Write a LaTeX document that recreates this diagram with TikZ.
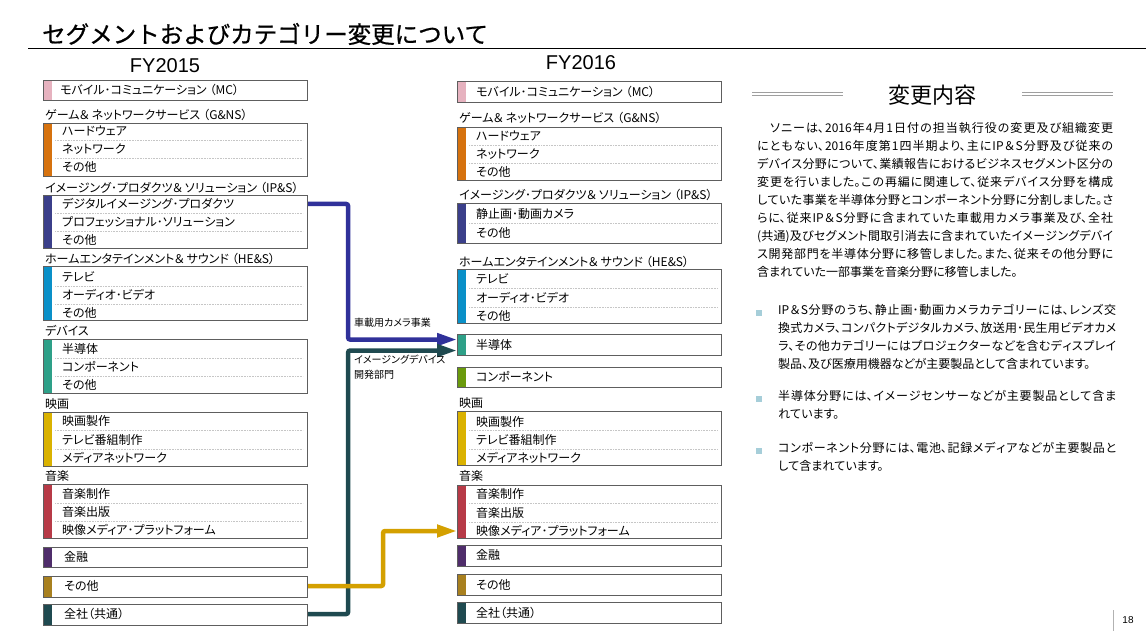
\documentclass[tikz,border=0pt]{standalone}
\usepackage{fontspec}
\setmainfont{Noto Sans CJK JP}
\newfontfamily\jp[RawFeature={+palt}]{Noto Sans CJK JP}
\newfontfamily\jpw{Noto Sans CJK JP}
\newfontfamily\jpt[FakeBold=0.8]{Noto Sans CJK JP}
\newfontfamily\arial{Liberation Sans}
\usetikzlibrary{arrows.meta}
\XeTeXlinebreaklocale "ja"
\XeTeXlinebreakskip=0pt plus 2pt
\definecolor{cMC}{HTML}{E6B2BF}
\definecolor{cGN}{HTML}{D6720E}
\definecolor{cIP}{HTML}{3B3F8A}
\definecolor{cHE}{HTML}{0A90C8}
\definecolor{cDV}{HTML}{2EA088}
\definecolor{cFM}{HTML}{DAB200}
\definecolor{cMU}{HTML}{B73A47}
\definecolor{cFI}{HTML}{4F2D6B}
\definecolor{cOT}{HTML}{A8801F}
\definecolor{cCO}{HTML}{1F4A50}
\definecolor{cCP}{HTML}{6A9A0C}
\definecolor{aBL}{HTML}{30319A}
\definecolor{aTE}{HTML}{1F4A50}
\definecolor{aGO}{HTML}{D4A000}
\definecolor{boxgray}{HTML}{5E5E5E}
\definecolor{cBul}{HTML}{A6CED9}
\newcommand\amp{＆\hspace{2.5pt}}
\newcommand\lp{\hspace{3pt}（}
\begin{document}
\begin{tikzpicture}[x=1pt,y=-1pt,
  seg/.style={draw=boxgray, line width=1.1pt, fill=white, anchor=north west, inner sep=0pt,
     minimum width=264pt,
     path picture={\fill[#1] (path picture bounding box.north west) rectangle ([xshift=8pt]path picture bounding box.south west);}},
  row/.style={anchor=west, inner sep=0pt, font=\jp\fontsize{12}{14}\selectfont},
  lab/.style={anchor=west, inner sep=0pt, font=\jp\fontsize{12}{14}\selectfont},
  sep/.style={densely dotted, draw=gray!45, line width=0.6pt},
  flow/.style={line width=4.5pt, rounded corners=2pt, -{Triangle[length=20pt,width=12pt]}},
  small/.style={anchor=west, inner sep=0pt, font=\jp\fontsize{10}{15}\selectfont, align=left},
  para/.style={anchor=north west, inner sep=0pt, align=justify, font=\jp\fontsize{12}{18}\selectfont},
  bul/.style={fill=cBul, inner sep=0pt, minimum size=6pt},
  thin/.style={draw=gray!75, line width=0.7pt}
]
\useasboundingbox (0,0) rectangle (1146,639);
\fill[white] (0,0) rectangle (1146,639);

% title
\node[anchor=west, inner sep=0pt, font=\jpt\fontsize{23.5}{26}\selectfont] (title) at (42,34) {セグメントおよびカテゴリー変更について};
\draw[line width=0.8pt] (28,48) -- (1146,48);

\node[font=\arial\fontsize{20}{22}\selectfont, inner sep=0pt] (fy15) at (165,66) {FY2015};
\node[font=\arial\fontsize{20}{22}\selectfont, inner sep=0pt] (fy16) at (581,63) {FY2016};

% ---------------- left column
\node[seg=cMC, minimum height=20pt] (lMC) at (43,80) {};
\node[row] (lMCt) at (60,90) {モバイル･コミュニケーション\lp MC）};

\node[lab] (lGNl) at (45,115) {ゲーム\amp ネットワークサービス\lp G\&NS）};
\node[seg=cGN, minimum height=53pt] (lGN) at (43,123) {};
\draw[sep] (55,140) -- (303,140); \draw[sep] (55,158) -- (303,158);
\node[row] (lGN1) at (62,131) {ハードウェア};
\node[row] (lGN2) at (62,149) {ネットワーク};
\node[row] (lGN3) at (62,167) {その他};

\node[lab] (lIPl) at (45,188) {イメージング･プロダクツ\amp ソリューション\lp IP\&S）};
\node[seg=cIP, minimum height=53pt] (lIP) at (43,195) {};
\draw[sep] (55,213) -- (303,213); \draw[sep] (55,231) -- (303,231);
\node[row] (lIP1) at (62,204) {デジタルイメージング･プロダクツ};
\node[row] (lIP2) at (62,222) {プロフェッショナル･ソリューション};
\node[row] (lIP3) at (62,240) {その他};

\node[lab] (lHEl) at (45,259) {ホームエンタテインメント\amp サウンド\lp HE\&S）};
\node[seg=cHE, minimum height=54pt] (lHE) at (43,266) {};
\draw[sep] (55,286) -- (303,286); \draw[sep] (55,304) -- (303,304);
\node[row] (lHE1) at (62,277) {テレビ};
\node[row] (lHE2) at (62,295) {オーディオ･ビデオ};
\node[row] (lHE3) at (62,313) {その他};

\node[lab] (lDVl) at (45,331) {デバイス};
\node[seg=cDV, minimum height=54pt] (lDV) at (43,339) {};
\draw[sep] (55,358) -- (303,358); \draw[sep] (55,376) -- (303,376);
\node[row] (lDV1) at (62,349) {半導体};
\node[row] (lDV2) at (62,367) {コンポーネント};
\node[row] (lDV3) at (62,385) {その他};

\node[lab] (lFMl) at (45,404) {映画};
\node[seg=cFM, minimum height=54pt] (lFM) at (43,412) {};
\draw[sep] (55,430) -- (303,430); \draw[sep] (55,449) -- (303,449);
\node[row] (lFM1) at (62,421) {映画製作};
\node[row] (lFM2) at (62,440) {テレビ番組制作};
\node[row] (lFM3) at (62,458) {メディアネットワーク};

\node[lab] (lMUl) at (45,476) {音楽};
\node[seg=cMU, minimum height=54pt] (lMU) at (43,484) {};
\draw[sep] (55,503) -- (303,503); \draw[sep] (55,521) -- (303,521);
\node[row] (lMU1) at (62,494) {音楽制作};
\node[row] (lMU2) at (62,512) {音楽出版};
\node[row] (lMU3) at (62,530) {映像メディア･プラットフォーム};

\node[seg=cFI, minimum height=20pt] (lFI) at (43,547) {};
\node[row] (lFIt) at (64,557) {金融};
\node[seg=cOT, minimum height=21pt] (lOT) at (43,576) {};
\node[row] (lOTt) at (64,586) {その他};
\node[seg=cCO, minimum height=21pt] (lCO) at (43,604) {};
\node[row] (lCOt) at (64,614) {全社（共通）};

% ---------------- right column
\node[seg=cMC, minimum height=21pt] (rMC) at (457,81) {};
\node[row] (rMCt) at (476,92) {モバイル･コミュニケーション\lp MC）};

\node[lab] (rGNl) at (459,118) {ゲーム\amp ネットワークサービス\lp G\&NS）};
\node[seg=cGN, minimum height=53pt] (rGN) at (457,127) {};
\draw[sep] (469,145) -- (718,145); \draw[sep] (469,163) -- (718,163);
\node[row] (rGN1) at (476,136) {ハードウェア};
\node[row] (rGN2) at (476,154) {ネットワーク};
\node[row] (rGN3) at (476,172) {その他};

\node[lab] (rIPl) at (459,195) {イメージング･プロダクツ\amp ソリューション\lp IP\&S）};
\node[seg=cIP, minimum height=40pt] (rIP) at (457,203) {};
\draw[sep] (469,223) -- (718,223);
\node[row] (rIP1) at (476,214) {静止画･動画カメラ};
\node[row] (rIP2) at (476,233) {その他};

\node[lab] (rHEl) at (459,262) {ホームエンタテインメント\amp サウンド\lp HE\&S）};
\node[seg=cHE, minimum height=54pt] (rHE) at (457,269) {};
\draw[sep] (469,288) -- (718,288); \draw[sep] (469,307) -- (718,307);
\node[row] (rHE1) at (476,279) {テレビ};
\node[row] (rHE2) at (476,298) {オーディオ･ビデオ};
\node[row] (rHE3) at (476,316) {その他};

\node[seg=cDV, minimum height=21pt] (rSE) at (457,334) {};
\node[row] (rSEt) at (476,345) {半導体};
\node[seg=cCP, minimum height=20pt] (rCP) at (457,367) {};
\node[row] (rCPt) at (476,377) {コンポーネント};

\node[lab] (rFMl) at (459,403) {映画};
\node[seg=cFM, minimum height=54pt] (rFM) at (457,411) {};
\draw[sep] (469,430) -- (718,430); \draw[sep] (469,449) -- (718,449);
\node[row] (rFM1) at (476,422) {映画製作};
\node[row] (rFM2) at (476,440) {テレビ番組制作};
\node[row] (rFM3) at (476,458) {メディアネットワーク};

\node[lab] (rMUl) at (459,476) {音楽};
\node[seg=cMU, minimum height=53pt] (rMU) at (457,485) {};
\draw[sep] (469,503) -- (718,503); \draw[sep] (469,522) -- (718,522);
\node[row] (rMU1) at (476,494) {音楽制作};
\node[row] (rMU2) at (476,513) {音楽出版};
\node[row] (rMU3) at (476,531) {映像メディア･プラットフォーム};

\node[seg=cFI, minimum height=21pt] (rFI) at (457,545) {};
\node[row] (rFIt) at (476,555) {金融};
\node[seg=cOT, minimum height=21pt] (rOT) at (457,574) {};
\node[row] (rOTt) at (476,585) {その他};
\node[seg=cCO, minimum height=21pt] (rCO) at (457,602) {};
\node[row] (rCOt) at (476,613) {全社（共通）};

% ---------------- flows
\draw[flow, draw=aBL] (lIP.east |- lIP1) -- ++(40,0) |- ([yshift=5.5pt]rSE.west);
\draw[flow, draw=aTE] (lCO.east |- lCOt) -- ++(40,0) |- ([yshift=-5.5pt]rSE.west);
\draw[flow, draw=aGO] (lOT.east |- lOTt) -- ++(75,0) |- (rMU.west |- rMU3);

\node[small] (lab1) at (354,323) {車載用カメラ事業};
\node[small, anchor=north west] (lab2) at (354,355) {イメージングデバイス\\開発部門};

% ---------------- explanation panel
\node[font=\jpw\fontsize{22}{24}\selectfont, inner sep=0pt] (hd) at (932,95) {変更内容};
\draw[thin] (752,92.6) -- (843,92.6);
\draw[thin] (752,95.4) -- (843,95.4);
\draw[thin] (1022,92.6) -- (1113,92.6);
\draw[thin] (1022,95.4) -- (1113,95.4);

\node[para, text width=356pt] (par) at (757,122) {\noindent
　ソニーは、2016年4月1日付の担当執行役の変更及び組織変更\linebreak
にともない、2016年度第1四半期より、主にIP＆S分野及び従来の\linebreak
デバイス分野について、業績報告におけるビジネスセグメント区分の\linebreak
変更を行いました。この再編に関連して、従来デバイス分野を構成\linebreak
していた事業を半導体分野とコンポーネント分野に分割しました。さ\linebreak
らに、従来IP＆S分野に含まれていた車載用カメラ事業及び、全社\linebreak
(共通)及びセグメント間取引消去に含まれていたイメージングデバイ\linebreak
ス開発部門を半導体分野に移管しました。また、従来その他分野に\linebreak
含まれていた一部事業を音楽分野に移管しました。};

\node[bul] (b1) at (759,313) {};
\node[para, text width=338pt] (t1) at (778,304) {\noindent
IP＆S分野のうち、静止画･動画カメラカテゴリーには、レンズ交\linebreak
換式カメラ、コンパクトデジタルカメラ、放送用･民生用ビデオカメ\linebreak
ラ、その他カテゴリーにはプロジェクターなどを含むディスプレイ\linebreak
製品、及び医療用機器などが主要製品として含まれています。};

\node[bul] (b2) at (759,399) {};
\node[para, text width=338pt] (t2) at (778,390) {\noindent
半導体分野には、イメージセンサーなどが主要製品として含ま\linebreak
れています。};

\node[bul] (b3) at (759,451) {};
\node[para, text width=338pt] (t3) at (778,442) {\noindent
コンポーネント分野には、電池、記録メディアなどが主要製品と\linebreak
して含まれています。};

% page number
\draw[gray!60, line width=0.8pt] (1113,610) -- (1113,631);
\node[font=\arial\fontsize{10}{12}\selectfont, inner sep=0pt] (pg) at (1128,620) {18};
\end{tikzpicture}
\end{document}
